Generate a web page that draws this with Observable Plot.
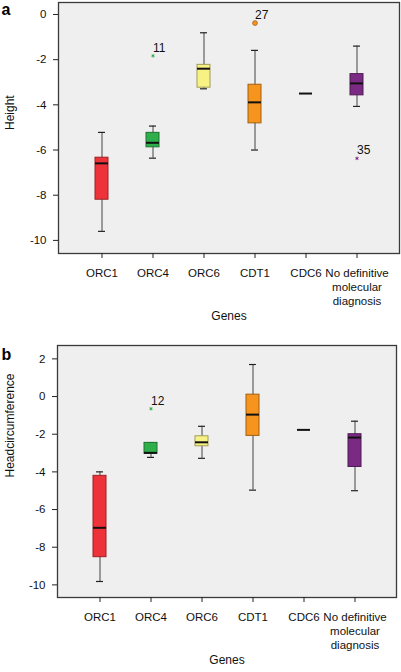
<!DOCTYPE html>
<html>
<head>
<meta charset="utf-8">
<script src="https://cdn.jsdelivr.net/npm/d3@7"></script>
<script src="https://cdn.jsdelivr.net/npm/@observablehq/plot@0.6"></script>
<style>
  html, body { margin: 0; padding: 0; background: #fff; }
  #chart { width: 401px; }
  #chart svg { display: block; }
</style>
</head>
<body>
<div id="chart"></div>
<script>
// ---- data ----
const genes = ["ORC1", "ORC4", "ORC6", "CDT1", "CDC6", "No definitive molecular diagnosis"];
const geneLabels = ["ORC1", "ORC4", "ORC6", "CDT1", "CDC6", "No definitive\nmolecular\ndiagnosis"];
const geneColors = ["#ee3239", "#2eaf4b", "#f8f184", "#f7941d", "#222222", "#7b2a83"];

// Panel a: Height
const heightLow    = [-9.6, -6.36, -3.29, -6.0, -3.5, -4.07];
const heightQ1     = [-8.2, -5.88, -3.24, -4.82, -3.5, -3.58];
const heightMedian = [-6.59, -5.68, -2.4, -3.89, -3.5, -3.05];
const heightQ3     = [-6.34, -5.24, -2.23, -3.11, -3.5, -2.64];
const heightHigh   = [-5.22, -4.94, -0.81, -1.59, -3.5, -1.4];
const heightOutGene  = ["ORC4", "CDT1", "No definitive molecular diagnosis"];
const heightOutValue = [-1.83, -0.38, -6.37];
const heightOutCase  = ["11", "27", "35"];
const heightOutKind  = ["extreme", "outlier", "extreme"];
const heightTicks = [0, -2, -4, -6, -8, -10];

// Panel b: Headcircumference
const headLow    = [-9.82, -3.23, -3.28, -4.97, -1.77, -5.0];
const headQ1     = [-8.53, -3.04, -2.64, -2.09, -1.77, -3.74];
const headMedian = [-6.97, -2.99, -2.43, -0.96, -1.77, -2.18];
const headQ3     = [-4.21, -2.46, -2.11, 0.1, -1.77, -2.0];
const headHigh   = [-4.0, -2.46, -1.58, 1.7, -1.77, -1.31];
const headOutGene  = ["ORC4"];
const headOutValue = [-0.65];
const headOutCase  = ["12"];
const headOutKind  = ["extreme"];
const headTicks = [2, 0, -2, -4, -6, -8, -10];

// ---- helpers ----
const FONT = "'Liberation Sans', Arial, Helvetica, sans-serif";
const colorOf = g => geneColors[genes.indexOf(g)];

function buildRows(low, q1, med, q3, high) {
  return genes.map((g, i) => ({gene: g, low: low[i], q1: q1[i], med: med[i], q3: q3[i], high: high[i], color: geneColors[i]}));
}

function panel({letter, letterY, ylabel, ylabelShift, rows, outGene, outValue, outCase, outKind, ticks, yDomain, height, margins}) {
  const boxes = rows.filter(d => d.q1 !== d.q3);
  const outs = outGene.map((g, i) => ({gene: g, value: outValue[i], label: outCase[i], kind: outKind[i], color: colorOf(g)}));
  return Plot.plot({
    width: 401,
    height,
    marginLeft: margins.left,
    marginRight: margins.right,
    marginTop: margins.top,
    marginBottom: margins.bottom,
    style: {fontFamily: FONT, fontSize: "11.5px", color: "#111", background: "transparent"},
    x: {type: "band", domain: genes, paddingInner: 0.747, paddingOuter: 0.697, axis: null},
    y: {domain: yDomain, axis: null},
    marks: [
      Plot.frame({fill: "#efefef", stroke: "#3a3a3a", strokeWidth: 1.3}),
      Plot.axisY({ticks, tickSize: 5, tickPadding: 7, tickFormat: d => String(d), stroke: "#222", fill: "#111", fontSize: 11.5, label: null}),
      Plot.axisX({tickSize: 5, tickPadding: 9, tickFormat: d => geneLabels[genes.indexOf(d)], lineHeight: 1.2, stroke: "#222", fill: "#111", fontSize: 11.5, label: null, textAnchor: "middle", lineAnchor: "top"}),
      // whiskers
      Plot.ruleX(boxes, {x: "gene", y1: "low", y2: "high", stroke: "#444", strokeWidth: 1}),
      Plot.tickY(boxes, {x: "gene", y: "low", stroke: "#222", strokeWidth: 1.2, insetLeft: 3, insetRight: 3}),
      Plot.tickY(boxes, {x: "gene", y: "high", stroke: "#222", strokeWidth: 1.2, insetLeft: 3, insetRight: 3}),
      // boxes
      Plot.barY(boxes, {x: "gene", y1: "q1", y2: "q3", fill: "color", stroke: d => d3.color(d.color).darker(1.2).formatHex(), strokeWidth: 1}),
      // medians
      Plot.tickY(rows, {x: "gene", y: "med", stroke: "#111", strokeWidth: 2}),
      // outliers
      Plot.dot(outs.filter(d => d.kind === "outlier"), {x: "gene", y: "value", r: 2.4, fill: "color", stroke: d => d3.color(d.color).darker(1.2).formatHex(), strokeWidth: 0.8}),
      Plot.dot(outs.filter(d => d.kind === "extreme"), {x: "gene", y: "value", r: 1.6, symbol: "asterisk", stroke: "color", strokeWidth: 1}),
      Plot.text(outs, {x: "gene", y: "value", text: "label", textAnchor: "start", dx: 0, dy: -8, fontSize: 12, fill: "#111"}),
      // y axis title
      Plot.text([ylabel], {frameAnchor: "left", dx: -(margins.left - 10), dy: ylabelShift, rotate: -90, fontSize: 12, fill: "#111"}),
      // x axis title
      Plot.text(["Genes"], {frameAnchor: "bottom", dy: 66, fontSize: 12, fill: "#111"}),
      // panel letter
      Plot.text([letter], {frameAnchor: "top-left", dx: -margins.left + 1, dy: letterY - margins.top, textAnchor: "start", lineAnchor: "middle", fontSize: 16, fontWeight: "bold", fill: "#000"})
    ]
  });
}

const chart = document.getElementById("chart");

chart.appendChild(panel({
  letter: "a",
  letterY: 9,
  ylabel: "Height",
  ylabelShift: 2,
  rows: buildRows(heightLow, heightQ1, heightMedian, heightQ3, heightHigh),
  outGene: heightOutGene, outValue: heightOutValue, outCase: heightOutCase, outKind: heightOutKind,
  ticks: heightTicks,
  yDomain: [-10.58, 0.53],
  height: 340,
  margins: {left: 58, right: 2, top: 2, bottom: 87}
}));

chart.appendChild(panel({
  letter: "b",
  letterY: 14,
  ylabel: "Headcircumference",
  ylabelShift: 6,
  rows: buildRows(headLow, headQ1, headMedian, headQ3, headHigh),
  outGene: headOutGene, outValue: headOutValue, outCase: headOutCase, outKind: headOutKind,
  ticks: headTicks,
  yDomain: [-10.67, 2.71],
  height: 332,
  margins: {left: 57, right: 5, top: 5, bottom: 75}
}));
</script>
</body>
</html>
